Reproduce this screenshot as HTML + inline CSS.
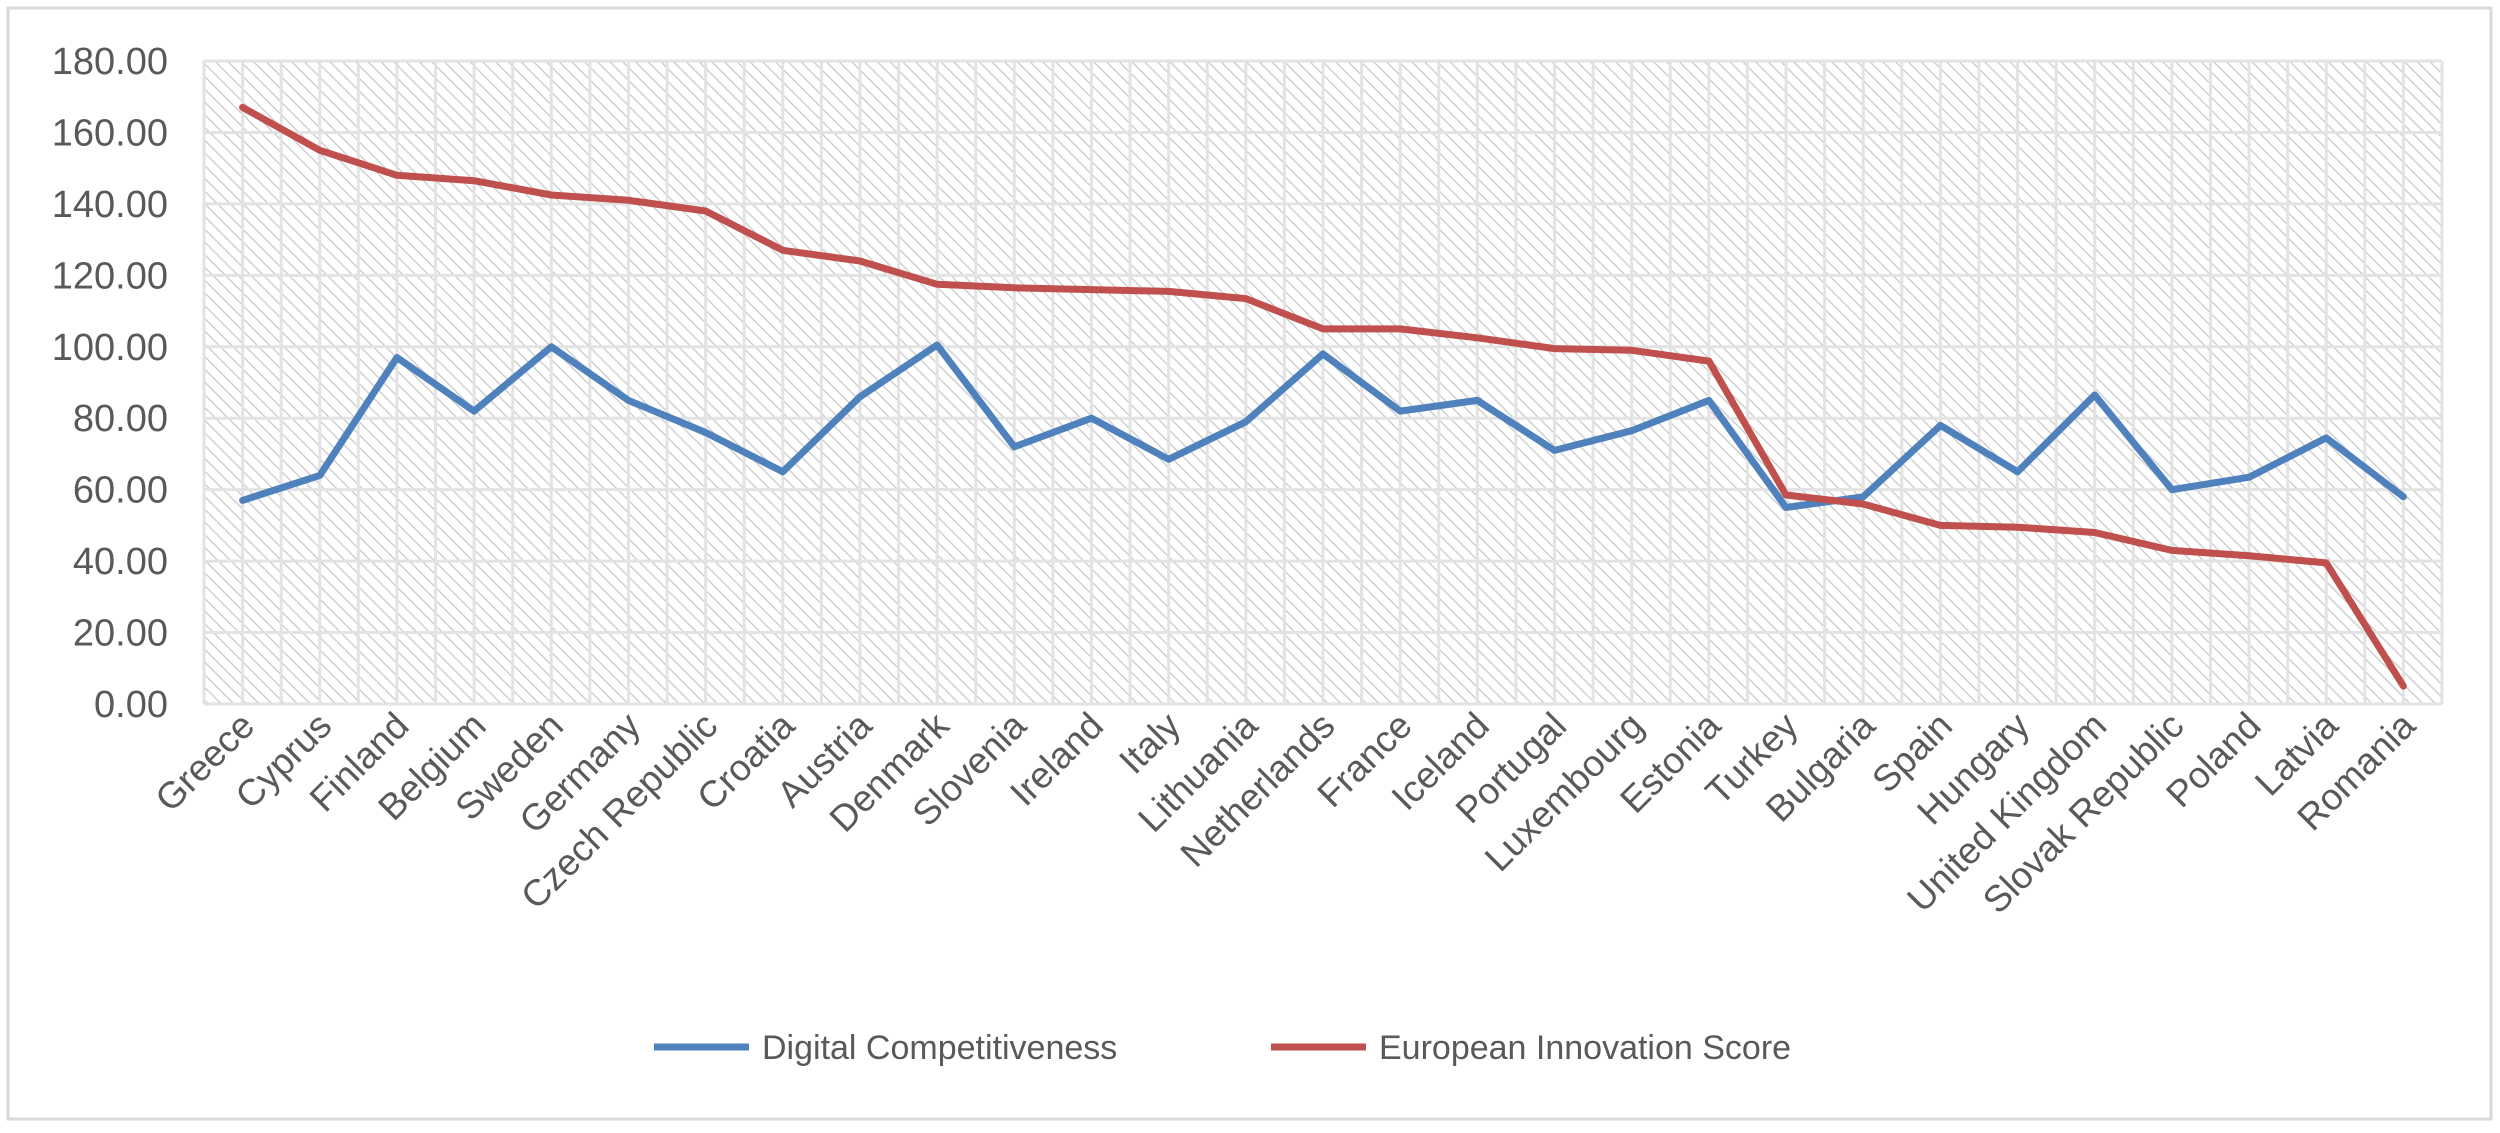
<!DOCTYPE html>
<html><head><meta charset="utf-8"><style>
html,body{margin:0;padding:0;background:#fff;}
svg text{font-family:"Liberation Sans",sans-serif;fill:#595959;}
</style></head><body>
<svg id="chart" width="2500" height="1128" xmlns="http://www.w3.org/2000/svg">
<defs>
<pattern id="hatch" patternUnits="userSpaceOnUse" width="9" height="9" patternTransform="rotate(-45)">
<rect width="9" height="9" fill="#fff"/>
<line x1="0" y1="0" x2="0" y2="9" stroke="#c8c8c8" stroke-width="2.5"/>
</pattern>
</defs>
<rect x="8" y="8" width="2483" height="1111" fill="#fff" stroke="#d9d9d9" stroke-width="3"/>
<rect x="204" y="61" width="2238" height="643" fill="url(#hatch)"/>
<g id="grid"></g>
<g id="yaxis"></g>
<g id="xaxis"></g>
<g id="series"></g>
<g>
<line x1="654" y1="1047" x2="749" y2="1047" stroke="#4F81BD" stroke-width="7"/>
<text x="762" y="1059" font-size="34">Digital Competitiveness</text>
<line x1="1271" y1="1047" x2="1366" y2="1047" stroke="#C0504D" stroke-width="7"/>
<text x="1379" y="1059" font-size="34">European Innovation Score</text>
</g>
</svg>
<script>
const categories = ["Greece","Cyprus","Finland","Belgium","Sweden","Germany","Czech Republic","Croatia","Austria","Denmark","Slovenia","Ireland","Italy","Lithuania","Netherlands","France","Iceland","Portugal","Luxembourg","Estonia","Turkey","Bulgaria","Spain","Hungary","United Kingdom","Slovak Republic","Poland","Latvia","Romania"];
const digitalValues = [57,64,97,82,100,85,76,65,86,100.5,72,80,68.5,79,98,82,85,71,76.5,85,55,58,78,65,86.5,60,63.5,74.5,58];
const innovationValues = [167,155,148,146.5,142.5,141,138,127,124,117.5,116.5,116,115.5,113.5,105,105,102.5,99.5,99,96,58.5,56,50,49.5,48,43,41.5,39.5,5];
const yTicks = [0,20,40,60,80,100,120,140,160,180];

const NS="http://www.w3.org/2000/svg";
const L=204,R=2442,T=61,B=704,yMax=180;
const step=(R-L)/categories.length;
function xPos(i){return L+step*(i+0.5);}
function yPos(v){return B-(v/yMax)*(B-T);}
function mk(tag,attrs,parent){const e=document.createElementNS(NS,tag);for(const k in attrs)e.setAttribute(k,attrs[k]);parent.appendChild(e);return e;}

const grid=document.getElementById('grid');
for(let i=0;i<=categories.length*2;i++){
  const x=L+step*i/2;
  const l=mk('line',{x1:x,y1:T,x2:x,y2:B,stroke:'#e3e3e3','stroke-width':3},grid);
  
  
}
const ya=document.getElementById('yaxis');
yTicks.forEach(v=>{
  const y=yPos(v);
  const l=mk('line',{x1:L,y1:y,x2:R,y2:y,stroke:'#e3e3e3','stroke-width':3},grid);
  
  
  const t=mk('text',{x:168,y:y+13,'text-anchor':'end','font-size':38},ya);
  t.textContent=v.toFixed(2);
  
  
});
const xa=document.getElementById('xaxis');
categories.forEach((c,i)=>{
  const x=xPos(i)+14,y=728;
  const t=mk('text',{x:x,y:y,'text-anchor':'end','font-size':37,transform:`rotate(-45 ${x} ${y})`},xa);
  t.textContent=c;
  
  
});
const s=document.getElementById('series');
function drawSeries(vals,color,name){
  const pts=vals.map((v,i)=>xPos(i).toFixed(1)+','+yPos(v).toFixed(1)).join(' ');
  const p=mk('polyline',{points:pts,fill:'none',stroke:color,'stroke-width':7,'stroke-linejoin':'round','stroke-linecap':'round'},s);
  
  
}
drawSeries(digitalValues,'#4F81BD','digital-competitiveness-line');
drawSeries(innovationValues,'#C0504D','european-innovation-score-line');
</script>
</body></html>
